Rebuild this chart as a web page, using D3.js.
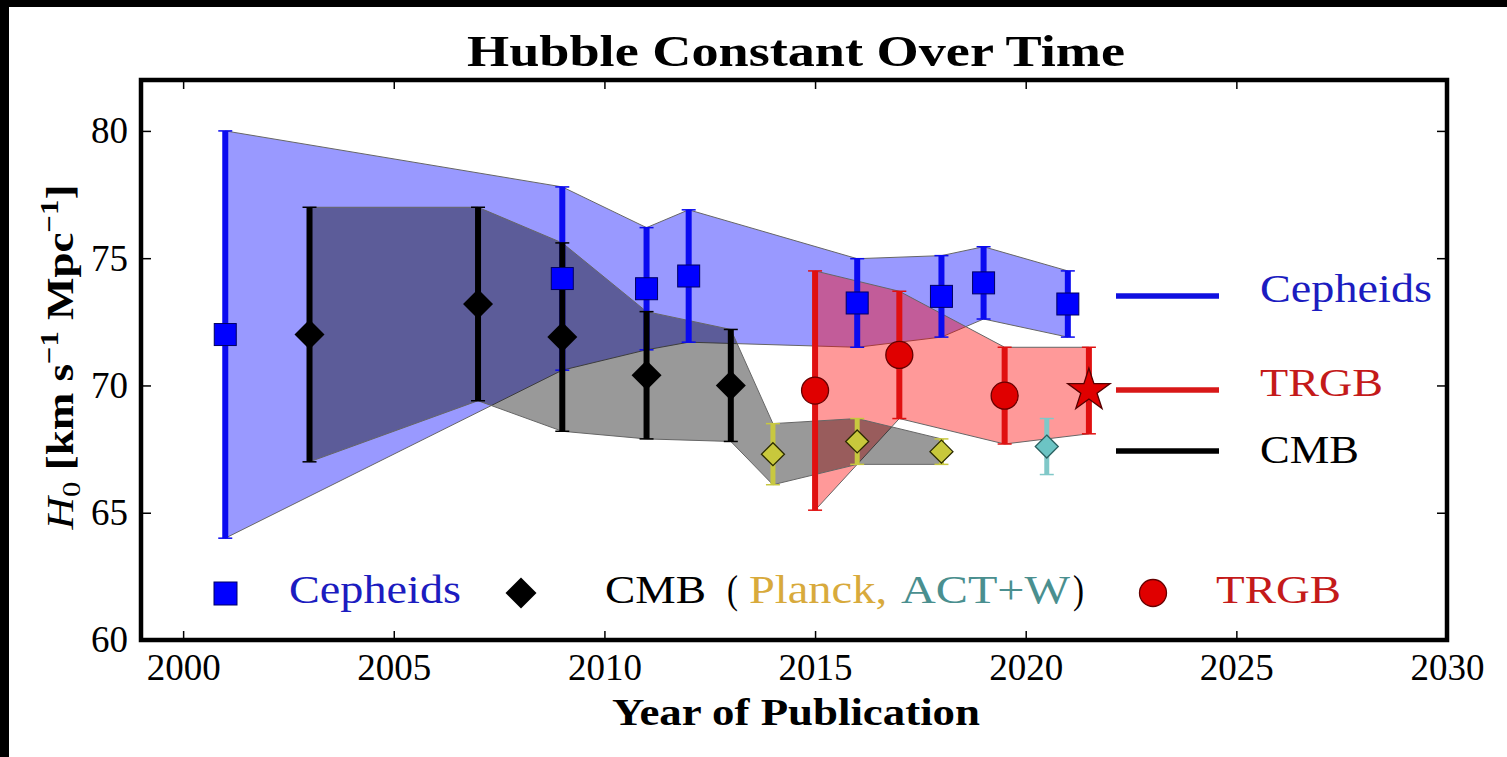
<!DOCTYPE html>
<html>
<head>
<meta charset="utf-8">
<script src="https://cdn.jsdelivr.net/npm/d3@7"></script>
<style>
  html, body { margin: 0; padding: 0; background: #fff; }
  svg { display: block; }
  text { font-family: "Liberation Serif", "DejaVu Serif", serif; }
</style>
</head>
<body>
<div id="chart"></div>
<script>
// Cepheid distance ladder measurements
const cephYear = [2001, 2009, 2011, 2012, 2016, 2018, 2019, 2021];
const cephH0 = [72.0, 74.2, 73.8, 74.3, 73.24, 73.5, 74.03, 73.2];
const cephErr = [8.0, 3.6, 2.4, 2.6, 1.74, 1.6, 1.42, 1.3];

// CMB: WMAP (black), Planck (yellow), ACT+W (teal)
const wmapYear = [2003, 2007, 2009, 2011, 2013];
const wmapH0 = [72.0, 73.2, 71.9, 70.4, 70.0];
const wmapErr = [5.0, 3.8, 3.7, 2.5, 2.2];

const planckYear = [2014, 2016, 2018];
const planckH0 = [67.3, 67.8, 67.4];
const planckErr = [1.2, 0.9, 0.5];

const actYear = [2020.5];
const actH0 = [67.6];
const actErr = [1.1];

// TRGB measurements (the last one drawn as a star)
const trgbYear = [2015, 2017, 2019.5];
const trgbH0 = [69.8, 71.2, 69.6];
const trgbErr = [4.7, 2.5, 1.9];

const starYear = [2021.5];
const starH0 = [69.8];
const starErr = [1.7];

// Axis ticks
const xTicks = [2000, 2005, 2010, 2015, 2020, 2025, 2030];
const yTicks = [60, 65, 70, 75, 80];

const width = 1507, height = 757;
const plot = { left: 141, right: 1447, top: 80, bottom: 640 };

const svg = d3.select("#chart").append("svg")
  .attr("width", width)
  .attr("height", height);

svg.append("rect").attr("width", width).attr("height", height).attr("fill", "#fff");
// black strips at the top and left of the image
svg.append("rect").attr("x", 0).attr("y", 0).attr("width", width).attr("height", 7).attr("fill", "#000");
svg.append("rect").attr("x", 0).attr("y", 0).attr("width", 9).attr("height", height).attr("fill", "#000");

const x = d3.scaleLinear().domain([1999, 2030]).range([plot.left, plot.right]);
const y = d3.scaleLinear().domain([60, 82]).range([plot.bottom, plot.top]);

const rows = (yr, v, e) => d3.zip(yr, v, e).map(([a, b, c]) => ({ yr: a, v: b, e: c }));

const ceph = rows(cephYear, cephH0, cephErr);
const wmap = rows(wmapYear, wmapH0, wmapErr);
const planck = rows(planckYear, planckH0, planckErr);
const act = rows(actYear, actH0, actErr);
const trgb = rows(trgbYear, trgbH0, trgbErr);
const star = rows(starYear, starH0, starErr);

// Shaded bands between the error bar ends
const band = d3.area()
  .x(d => x(d.yr))
  .y0(d => y(d.v - d.e))
  .y1(d => y(d.v + d.e));

const bands = svg.append("g");
bands.append("path").attr("d", band(ceph))
  .attr("fill", "#0000ff").attr("fill-opacity", 0.4)
  .attr("stroke", "#666").attr("stroke-width", 1);
bands.append("path").attr("d", band(trgb.concat(star)))
  .attr("fill", "#ff0000").attr("fill-opacity", 0.4)
  .attr("stroke", "#666").attr("stroke-width", 1);
bands.append("path").attr("d", band(wmap.concat(planck)))
  .attr("fill", "#000").attr("fill-opacity", 0.4)
  .attr("stroke", "#666").attr("stroke-width", 1);

// Error bars
function errorBars(data, color, w) {
  const g = svg.append("g").attr("stroke", color);
  g.selectAll("line.bar").data(data).join("line")
    .attr("class", "bar")
    .attr("x1", d => x(d.yr)).attr("x2", d => x(d.yr))
    .attr("y1", d => y(d.v - d.e)).attr("y2", d => y(d.v + d.e))
    .attr("stroke-width", w);
  const caps = data.flatMap(d => [{ yr: d.yr, h: d.v - d.e }, { yr: d.yr, h: d.v + d.e }]);
  g.selectAll("line.cap").data(caps).join("line")
    .attr("class", "cap")
    .attr("x1", d => x(d.yr) - 7).attr("x2", d => x(d.yr) + 7)
    .attr("y1", d => y(d.h)).attr("y2", d => y(d.h))
    .attr("stroke-width", 1.5);
}

errorBars(ceph, "#0a0af0", 6);
errorBars(wmap, "#000", 6);
errorBars(planck, "#c8c840", 5);
errorBars(act, "#80c8c8", 5);
errorBars(trgb, "#e01010", 6);
errorBars(star, "#e01010", 6);

// Markers
const diamond = (r) => `M0,${-r}L${r},0L0,${r}L${-r},0Z`;

svg.append("g").selectAll("rect").data(ceph).join("rect")
  .attr("x", d => x(d.yr) - 11).attr("y", d => y(d.v) - 11)
  .attr("width", 22).attr("height", 22)
  .attr("fill", "#0000ff").attr("stroke", "#000060").attr("stroke-width", 1);

svg.append("g").selectAll("path").data(wmap).join("path")
  .attr("transform", d => `translate(${x(d.yr)},${y(d.v)})`)
  .attr("d", diamond(15)).attr("fill", "#000");

svg.append("g").selectAll("path").data(planck).join("path")
  .attr("transform", d => `translate(${x(d.yr)},${y(d.v)})`)
  .attr("d", diamond(11.5)).attr("fill", "#c8c83c")
  .attr("stroke", "#2a2a00").attr("stroke-width", 1.3);

svg.append("g").selectAll("path").data(act).join("path")
  .attr("transform", d => `translate(${x(d.yr)},${y(d.v)})`)
  .attr("d", diamond(11.5)).attr("fill", "#6cc4c4")
  .attr("stroke", "#2a6060").attr("stroke-width", 1.3);

svg.append("g").selectAll("circle").data(trgb).join("circle")
  .attr("cx", d => x(d.yr)).attr("cy", d => y(d.v)).attr("r", 13.5)
  .attr("fill", "#e00000").attr("stroke", "#600").attr("stroke-width", 1.3);

svg.append("g").selectAll("path").data(star).join("path")
  .attr("transform", d => `translate(${x(d.yr)},${y(d.v)})`)
  .attr("d", d3.symbol(d3.symbolStar, 560))
  .attr("fill", "#e00000").attr("stroke", "#500").attr("stroke-width", 1.3);

// Axes with inward ticks on all four sides
const tickFont = g => g.selectAll("text")
  .attr("font-family", "Liberation Serif, serif").attr("font-size", 37).attr("fill", "#000");
const cleanAxis = g => {
  g.select(".domain").remove();
  g.selectAll(".tick line").attr("stroke", "#000").attr("stroke-width", 1.5);
};

svg.append("g").attr("transform", `translate(0,${plot.bottom})`)
  .call(d3.axisBottom(x).tickValues(xTicks).tickSize(-9).tickPadding(14).tickFormat(d3.format("d")))
  .call(cleanAxis).call(tickFont);
svg.append("g").attr("transform", `translate(0,${plot.top})`)
  .call(d3.axisTop(x).tickValues(xTicks).tickSize(-9).tickFormat(""))
  .call(cleanAxis);
svg.append("g").attr("transform", `translate(${plot.left},0)`)
  .call(d3.axisLeft(y).tickValues(yTicks).tickSize(-10).tickPadding(13))
  .call(cleanAxis).call(tickFont);
svg.append("g").attr("transform", `translate(${plot.right},0)`)
  .call(d3.axisRight(y).tickValues(yTicks).tickSize(-10).tickFormat(""))
  .call(cleanAxis);

svg.append("rect")
  .attr("x", plot.left).attr("y", plot.top)
  .attr("width", plot.right - plot.left).attr("height", plot.bottom - plot.top)
  .attr("fill", "none").attr("stroke", "#000").attr("stroke-width", 4.5);

// Title and axis labels
svg.append("text")
  .attr("x", 796).attr("y", 66)
  .attr("text-anchor", "middle")
  .attr("font-size", 44).attr("font-weight", "bold")
  .attr("textLength", 658).attr("lengthAdjust", "spacingAndGlyphs")
  .text("Hubble Constant Over Time");

svg.append("text")
  .attr("x", 796).attr("y", 725)
  .attr("text-anchor", "middle")
  .attr("font-size", 38).attr("font-weight", "bold")
  .attr("textLength", 368).attr("lengthAdjust", "spacingAndGlyphs")
  .text("Year of Publication");

const ylab = svg.append("text")
  .attr("transform", "translate(73,357) rotate(-90)")
  .attr("text-anchor", "middle")
  .attr("font-size", 38)
  .attr("textLength", 345).attr("lengthAdjust", "spacingAndGlyphs");
ylab.append("tspan").attr("font-style", "italic").text("H");
ylab.append("tspan").attr("font-size", 26).attr("dy", 7).text("0");
ylab.append("tspan").attr("font-weight", "bold").attr("dy", -7).text(" [km s");
ylab.append("tspan").attr("font-weight", "bold").attr("font-size", 26).attr("dy", -15).text("\u22121");
ylab.append("tspan").attr("font-weight", "bold").attr("dy", 15).text(" Mpc");
ylab.append("tspan").attr("font-weight", "bold").attr("font-size", 26).attr("dy", -15).text("\u22121");
ylab.append("tspan").attr("font-weight", "bold").attr("dy", 15).text("]");

// Right-hand legend (lines)
const lineLegend = [
  { label: "Cepheids", color: "#1010e0", text: "#1c1cc0", ly: 296, ty: 302, tw: 172 },
  { label: "TRGB", color: "#d81818", text: "#c41a1a", ly: 390, ty: 396, tw: 123 },
  { label: "CMB", color: "#000", text: "#000", ly: 451, ty: 463, tw: 99 }
];
const ll = svg.append("g");
ll.selectAll("line").data(lineLegend).join("line")
  .attr("x1", 1116).attr("x2", 1219)
  .attr("y1", d => d.ly).attr("y2", d => d.ly)
  .attr("stroke", d => d.color).attr("stroke-width", 5.5);
ll.selectAll("text").data(lineLegend).join("text")
  .attr("x", 1260).attr("y", d => d.ty)
  .attr("font-size", 39).attr("fill", d => d.text)
  .attr("textLength", d => d.tw).attr("lengthAdjust", "spacingAndGlyphs")
  .text(d => d.label);

// Bottom legend (markers)
const lg = svg.append("g");
lg.append("rect").attr("x", 214).attr("y", 582).attr("width", 23).attr("height", 23)
  .attr("fill", "#0000ff").attr("stroke", "#000060").attr("stroke-width", 1);
lg.append("path").attr("transform", "translate(521,593)").attr("d", diamond(15.5)).attr("fill", "#000");
lg.append("circle").attr("cx", 1153).attr("cy", 593).attr("r", 13.5)
  .attr("fill", "#e00000").attr("stroke", "#600").attr("stroke-width", 1.3);

const legendText = [
  { t: "Cepheids", x: 289, w: 172, c: "#1c1cc0" },
  { t: "CMB", x: 605, w: 101, c: "#000" },
  { t: "(", x: 727, w: 11, c: "#000" },
  { t: "Planck,", x: 749, w: 138, c: "#d8aa3c" },
  { t: "ACT+W", x: 901, w: 169, c: "#4a8f8f" },
  { t: ")", x: 1073, w: 11, c: "#000" },
  { t: "TRGB", x: 1216, w: 125, c: "#c41a1a" }
];
lg.selectAll("text").data(legendText).join("text")
  .attr("x", d => d.x).attr("y", 603)
  .attr("font-size", 39).attr("fill", d => d.c)
  .attr("textLength", d => d.w).attr("lengthAdjust", "spacingAndGlyphs")
  .text(d => d.t);
</script>
</body>
</html>
